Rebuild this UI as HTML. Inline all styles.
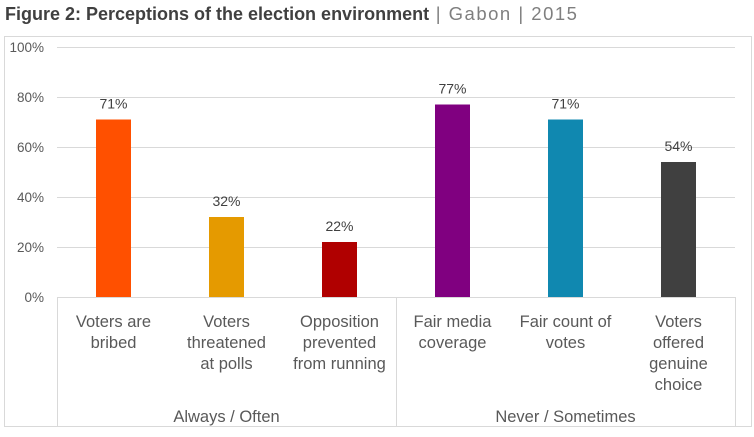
<!DOCTYPE html>
<html><head><meta charset="utf-8"><style>
body{margin:0;width:754px;height:432px;background:#fff;overflow:hidden;font-family:"Liberation Sans",sans-serif}
</style></head><body>
<svg width="754" height="432">
<text x="5" y="20" font-size="18" fill="#404040"><tspan font-weight="bold">Figure 2: Perceptions of the election environment</tspan><tspan fill="#7f7f7f" font-size="18.5" letter-spacing="1.5"> | Gabon | 2015</tspan></text>
<rect x="4.5" y="36.5" width="747" height="390" fill="none" stroke="#d9d9d9"/>
<g id="grid"></g><g id="bars"></g><g id="labels"></g>
</svg>
<script>
const categories=[["Voters are","bribed"],["Voters","threatened","at polls"],["Opposition","prevented","from running"],["Fair media","coverage"],["Fair count of","votes"],["Voters","offered","genuine","choice"]];
const values=[71,32,22,77,71,54];
const colors=["#ff5000","#e59a00","#b00000","#800080","#1088b0","#404040"];
const groups=["Always / Often","Never / Sometimes"];
const ticks=[0,20,40,60,80,100];
const NS="http://www.w3.org/2000/svg";
const x0=57,x1=735,yB=297,yT=47,cw=(x1-x0)/categories.length,bw=35;
const y=v=>yB-(v/100)*(yB-yT);
function mk(tag,attrs,parent,txt){const e=document.createElementNS(NS,tag);for(const k in attrs)e.setAttribute(k,attrs[k]);if(txt!==undefined)e.textContent=txt;document.getElementById(parent).appendChild(e);return e;}
ticks.forEach(t=>{
 const l=mk('line',{x1:x0,x2:x1,y1:y(t)+.5,y2:y(t)+.5,stroke:'#d9d9d9'},'grid');
 
 
 const tx=mk('text',{x:44,y:y(t)+5,'text-anchor':'end','font-size':13.5,fill:'#595959'},'grid',t+'%');
 
 
});
[x0,(x0+x1)/2,x1].forEach((xx,i)=>{
 const l=mk('line',{x1:Math.round(xx)+.5,x2:Math.round(xx)+.5,y1:297,y2:427,stroke:'#d9d9d9'},'grid');
 
 
});
values.forEach((v,i)=>{
 const cx=x0+cw*(i+.5);
 const r=mk('rect',{x:cx-bw/2,y:y(v),width:bw,height:yB-y(v),fill:colors[i]},'bars');
 
 
 const t=mk('text',{x:cx,y:y(v)-11,'text-anchor':'middle','font-size':14,fill:'#404040'},'labels',v+'%');
 
 
 categories[i].forEach((ln,j)=>{
  const c=mk('text',{x:cx,y:327+j*21,'text-anchor':'middle','font-size':16.5,fill:'#595959'},'labels',ln);
  
  
 });
});
groups.forEach((g,i)=>{
 const t=mk('text',{x:x0+(x1-x0)/4*(1+2*i),y:422,'text-anchor':'middle','font-size':16.5,fill:'#595959'},'labels',g);
 
 
});
</script>
</body></html>
